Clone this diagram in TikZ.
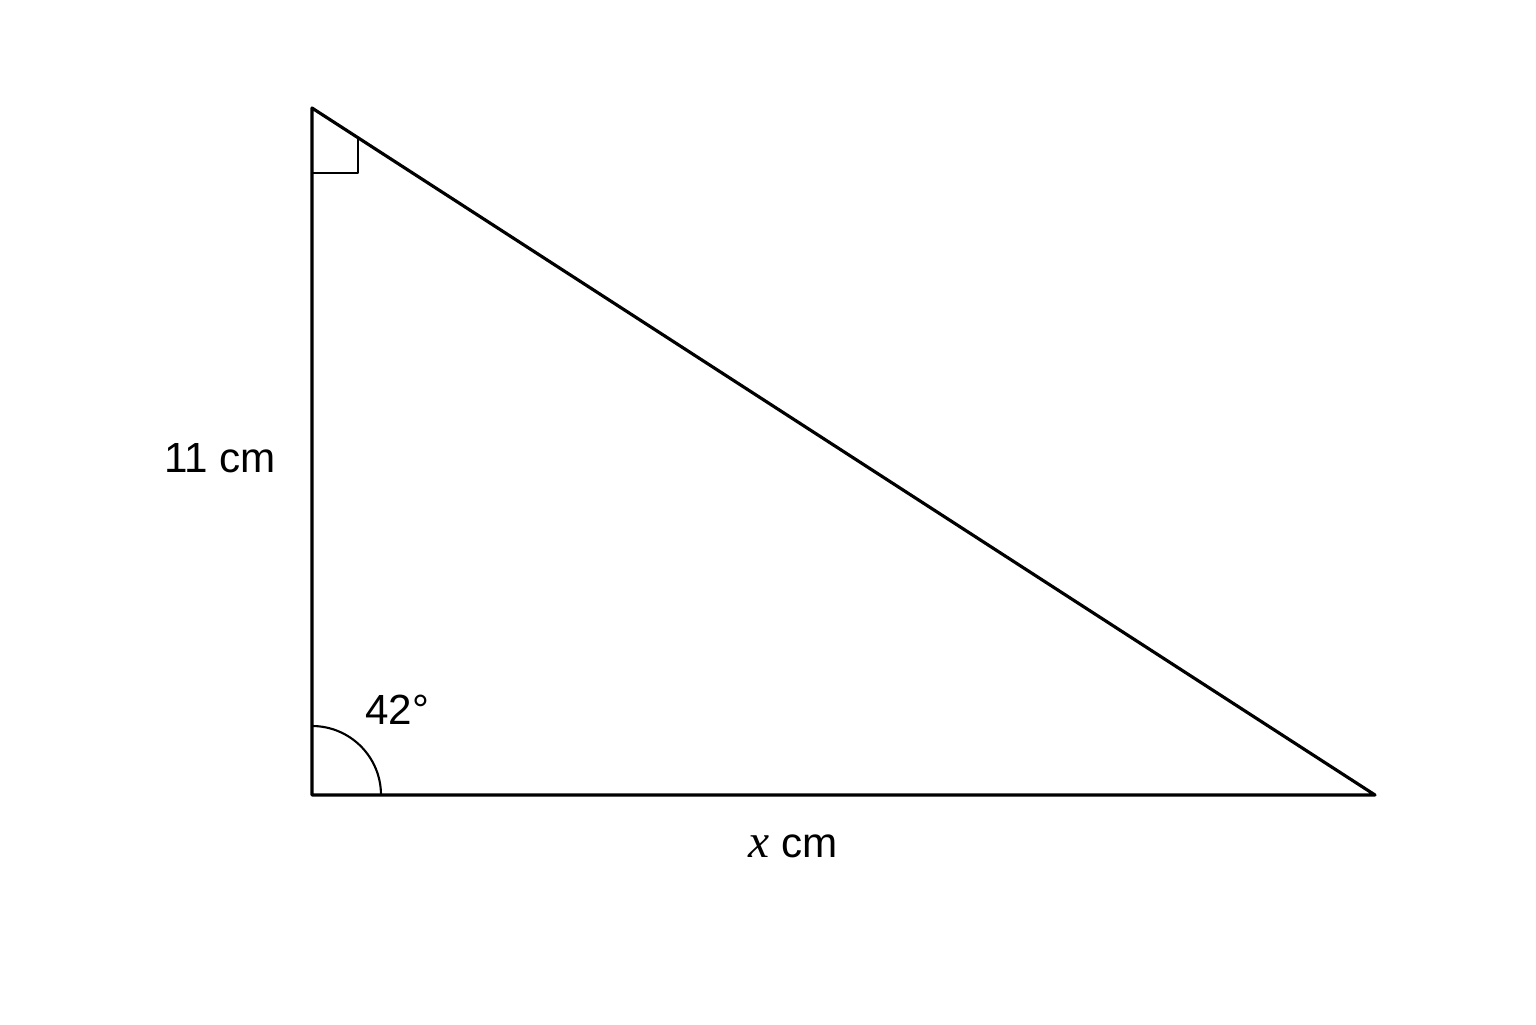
\documentclass[tikz,border=0pt]{standalone}
\usepackage{fontspec}
\setmainfont{Liberation Sans}
\newfontfamily\serifit{Liberation Serif}
\usetikzlibrary{calc}
\begin{document}
\begin{tikzpicture}[line join=round, line cap=round, font=\fontsize{12}{14}\selectfont]
			\useasboundingbox (0,0) rectangle (15.36,10.24);
			\def\r{0.69}
			\coordinate (A) at (3.12,9.16);
			\coordinate (B) at (3.12,2.29);
			\coordinate (C) at (13.75,2.29);
			\draw[line width=0.9pt] (A)--(B)--(C)--cycle;
			\draw[line width=0.6pt] (3.12,8.51)--(3.58,8.51)--(3.58,8.865);
			\draw[line width=0.6pt] ($(B)+(\r,0)$) arc (0:90:\r);
			\node (side) at (2.20,5.66) {11 cm};
			\node (ang) at (3.97,3.14) {42°};
			\node (base) at (7.93,1.78) {{\serifit\itshape\fontsize{13.5}{14}\selectfont x} cm};
	\end{tikzpicture}
\end{document}
